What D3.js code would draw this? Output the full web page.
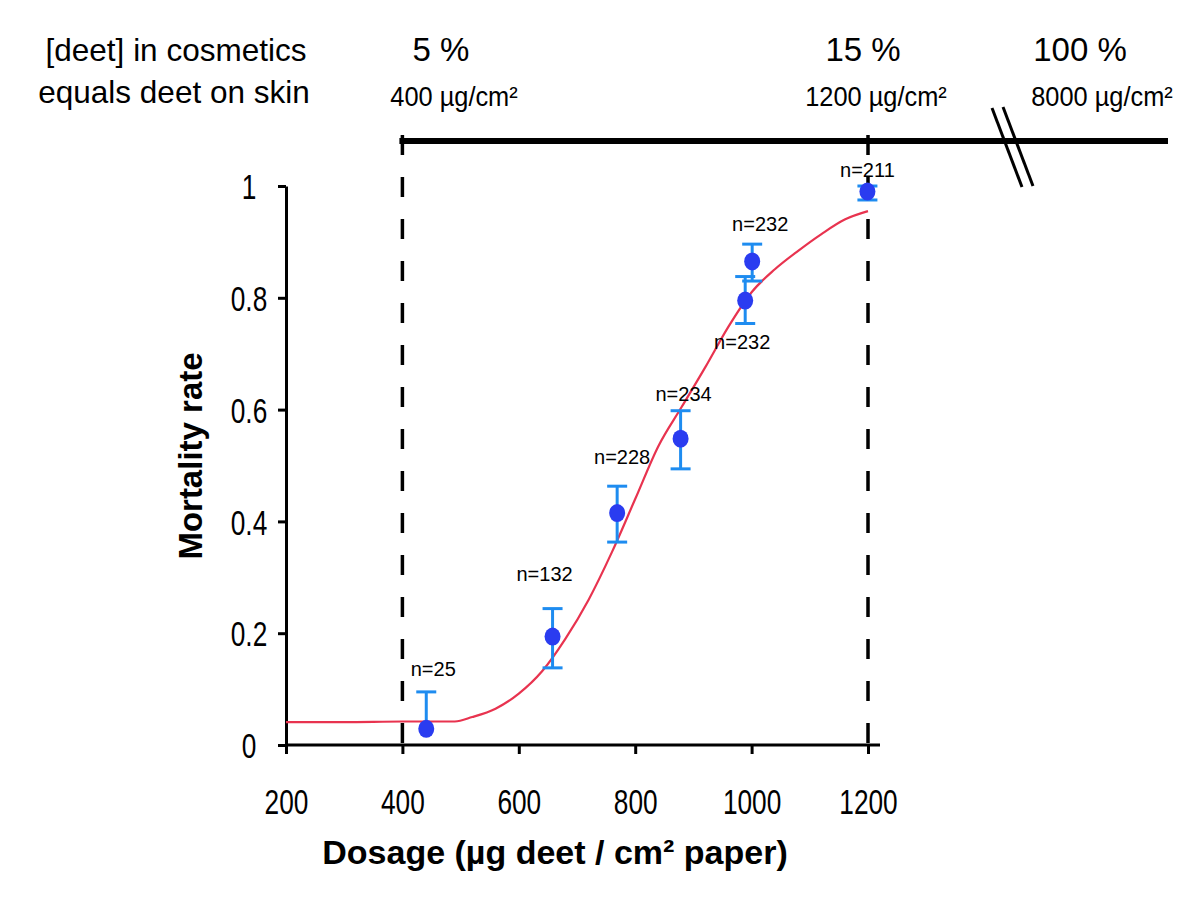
<!DOCTYPE html>
<script src="https://d3js.org/d3.v7.min.js"></script>
<meta charset="utf-8">
<style>
  body { margin: 0; background: #fff; }
  text { font-family: "Liberation Sans", Arial, sans-serif; }
</style>
<div id="chart"></div>
<script>

    // measured points (dosage in µg/cm², mortality rate, error bar ends, sample size)
    var doses = [441, 658, 769, 878, 989, 1001, 1199];
    var mortality = [0.029, 0.194, 0.415, 0.548, 0.795, 0.865, 0.99];
    var errLow = [0.029, 0.138, 0.363, 0.494, 0.754, 0.83, 0.975];
    var errHigh = [0.095, 0.244, 0.463, 0.598, 0.838, 0.896, 1.0];
    var sampleSizes = [25, 132, 228, 234, 232, 232, 211];

    // fitted dose-response curve
    var fitDose = [200, 300, 400, 490, 520, 560, 600, 640, 680, 720, 760, 800, 840, 880, 920, 960, 1000, 1040, 1080, 1120, 1160, 1200];
    var fitMortality = [0.041, 0.041, 0.042, 0.042, 0.05, 0.065, 0.092, 0.132, 0.19, 0.26, 0.345, 0.44, 0.535, 0.605, 0.675, 0.748, 0.81, 0.851, 0.884, 0.914, 0.94, 0.955];

    var xTicks = [200, 400, 600, 800, 1000, 1200];
    var yTicks = [0, 0.2, 0.4, 0.6, 0.8, 1];

    // top scale: cosmetic concentration -> deet on skin
    var concLabels = ["5 %", "15 %", "100 %"];
    var skinLabels = ["400 µg/cm²", "1200 µg/cm²", "8000 µg/cm²"];

    var width = 1200, height = 906;
    var NARROW = 0.75; // no narrow font installed, squeeze the regular one

    var svg = d3.select("#chart")
        .append("svg")
        .attr("width", width)
        .attr("height", height);

    var x = d3.scaleLinear().domain([200, 1200]).range([286, 868]);
    var y = d3.scaleLinear().domain([0, 1]).range([745, 186]);

    // top annotation
    svg.append("text")
        .attr("x", 176).attr("y", 61).attr("text-anchor", "middle")
        .style("font-size", "31.5px").text("[deet] in cosmetics");
    svg.append("text")
        .attr("x", 174).attr("y", 103).attr("text-anchor", "middle")
        .style("font-size", "31.5px").text("equals deet on skin");

    var topX = [441, 863, 1080];
    var skinX = [454, 876, 1102];
    svg.selectAll(".conc").data(concLabels).enter()
        .append("text")
        .attr("x", function (d, i) { return topX[i]; })
        .attr("y", 61).attr("text-anchor", "middle")
        .style("font-size", "33px").text(function (d) { return d; });
    svg.selectAll(".skin").data(skinLabels).enter()
        .append("g")
        .attr("transform", function (d, i) { return "translate(" + skinX[i] + ",106)scale(0.94,1)"; })
        .append("text")
        .attr("text-anchor", "middle")
        .style("font-size", "27px").text(function (d) { return d; });

    // thick top bar with break mark
    svg.append("line")
        .attr("x1", x(400) - 3).attr("x2", 1168)
        .attr("y1", 141).attr("y2", 141)
        .attr("stroke", "#000").attr("stroke-width", 6);
    svg.append("line").attr("x1", 992).attr("y1", 108).attr("x2", 1022).attr("y2", 187)
        .attr("stroke", "#000").attr("stroke-width", 3);
    svg.append("line").attr("x1", 1003).attr("y1", 107).attr("x2", 1033).attr("y2", 186)
        .attr("stroke", "#000").attr("stroke-width", 3);

    // dashed reference lines at 400 and 1200
    svg.selectAll(".ref").data([400, 1200]).enter()
        .append("line")
        .attr("x1", function (d) { return x(d); })
        .attr("x2", function (d) { return x(d); })
        .attr("y1", 135).attr("y2", 745)
        .attr("stroke", "#000").attr("stroke-width", 3.5)
        .attr("stroke-dasharray", "20,22");

    // axes
    var xAxis = svg.append("g")
        .attr("transform", "translate(0," + y(0) + ")")
        .call(d3.axisBottom(x).tickValues(xTicks).tickSize(9).tickSizeOuter(0).tickFormat(d3.format("d")));
    xAxis.select(".domain").remove();
    xAxis.append("line").attr("x1", x(200)).attr("x2", 880)
        .attr("stroke", "#000").attr("stroke-width", 3);
    xAxis.selectAll(".tick line").attr("stroke-width", 3);
    xAxis.selectAll("text")
        .attr("y", 69).attr("dy", 0)
        .attr("transform", "scale(" + NARROW + ",1)")
        .style("font-size", "35px").attr("fill", "#000");

    var yAxis = svg.append("g")
        .attr("transform", "translate(" + x(200) + ",0)")
        .call(d3.axisLeft(y).tickValues(yTicks).tickSize(8).tickSizeOuter(0).tickFormat(function (d) { return d; }));
    yAxis.select(".domain").attr("stroke-width", 3);
    yAxis.selectAll(".tick line").attr("stroke-width", 3);
    yAxis.selectAll("text")
        .attr("x", -37 / NARROW).attr("dy", "0.36em").attr("text-anchor", "middle")
        .attr("transform", "scale(" + NARROW + ",1)")
        .style("font-size", "35px").attr("fill", "#000");

    // axis titles
    svg.append("text")
        .attr("transform", "translate(202,456)rotate(-90)")
        .attr("text-anchor", "middle")
        .style("font-size", "33px").style("font-weight", "bold")
        .text("Mortality rate");
    svg.append("text")
        .attr("x", 555).attr("y", 864).attr("text-anchor", "middle")
        .style("font-size", "34px").style("font-weight", "bold")
        .text("Dosage (µg deet / cm² paper)");

    // fitted curve
    var fit = fitDose.map(function (d, i) { return [d, fitMortality[i]]; });
    svg.append("path")
        .datum(fit)
        .attr("fill", "none")
        .attr("stroke", "#e8334f")
        .attr("stroke-width", 2.2)
        .attr("d", d3.line()
            .x(function (d) { return x(d[0]); })
            .y(function (d) { return y(d[1]); })
            .curve(d3.curveMonotoneX));

    var pts = doses.map(function (d, i) {
        return { dose: d, m: mortality[i], lo: errLow[i], hi: errHigh[i], n: sampleSizes[i] };
    });

    // error bars
    svg.selectAll(".err").data(pts).enter()
        .append("line")
        .attr("x1", function (d) { return x(d.dose); })
        .attr("x2", function (d) { return x(d.dose); })
        .attr("y1", function (d) { return y(d.lo); })
        .attr("y2", function (d) { return y(d.hi); })
        .attr("stroke", "#1e8cf0").attr("stroke-width", 3);
    svg.selectAll(".capHi").data(pts).enter()
        .append("line")
        .attr("x1", function (d) { return x(d.dose) - 10; })
        .attr("x2", function (d) { return x(d.dose) + 10; })
        .attr("y1", function (d) { return y(d.hi); })
        .attr("y2", function (d) { return y(d.hi); })
        .attr("stroke", "#1e8cf0").attr("stroke-width", 3);
    svg.selectAll(".capLo").data(pts.filter(function (d) { return d.lo < d.m; })).enter()
        .append("line")
        .attr("x1", function (d) { return x(d.dose) - 10; })
        .attr("x2", function (d) { return x(d.dose) + 10; })
        .attr("y1", function (d) { return y(d.lo); })
        .attr("y2", function (d) { return y(d.lo); })
        .attr("stroke", "#1e8cf0").attr("stroke-width", 3);

    // points
    svg.selectAll(".pt").data(pts).enter()
        .append("ellipse")
        .attr("cx", function (d) { return x(d.dose); })
        .attr("cy", function (d) { return y(d.m); })
        .attr("rx", 8).attr("ry", 9)
        .attr("fill", "#2a3cf0");

    // n labels (offsets from the error bar end, below for the lower n=232)
    var labelDx = [7, -8, 5, 3, -3, 8, 0];
    var labelDy = [-16, -28, -22, -10, 25, -13, -9];
    svg.selectAll(".nlab").data(pts).enter()
        .append("text")
        .attr("x", function (d, i) { return x(d.dose) + labelDx[i]; })
        .attr("y", function (d, i) { return labelDy[i] > 0 ? y(d.lo) + labelDy[i] : y(d.hi) + labelDy[i]; })
        .attr("text-anchor", "middle")
        .style("font-size", "20px")
        .text(function (d) { return "n=" + d.n; });

</script>
